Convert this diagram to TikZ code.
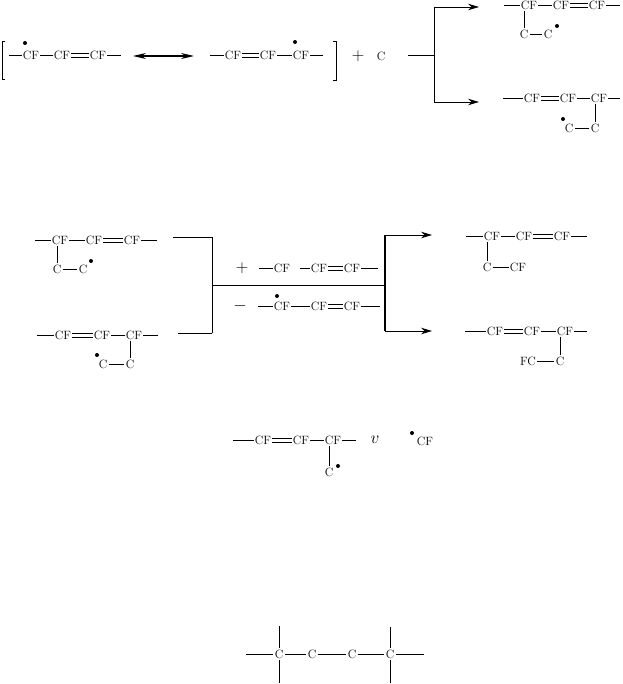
\documentclass[tikz,border=0pt]{standalone}
\usetikzlibrary{arrows.meta}

\newcommand{\dblbond}[2]{%
    \path ([yshift=2pt]#1.east) edge[bond] ([yshift=2pt]#2.west);
    \path ([yshift=-2pt]#1.east) edge[bond] ([yshift=-2pt]#2.west);}

\begin{document}
\begin{tikzpicture}[x=1pt, y=-1pt, >=Stealth, line width=0.8pt,
        atom/.style={inner sep=1pt, font=\fontsize{12}{13}\selectfont},
        sign/.style={inner sep=1pt, font=\fontsize{16}{17}\selectfont},
        radical/.style={circle, fill=black, inner sep=0pt, minimum size=4pt},
        bond/.style={draw},
        pointer/.style={draw, ->, >={Stealth[length=11pt, width=6.5pt]}}]
    \useasboundingbox (0,0) rectangle (622,684);

    % Resonance pair
    \coordinate (p1l) at (9,55);
    \node[atom] (p1a) at (31,55) {CF};
    \node[atom] (p1b) at (62,55) {CF};
    \node[atom] (p1c) at (98,55) {CF};
    \coordinate (p1r) at (121,55);
    \node[radical] (p1d) at (25,43) {};
    \coordinate (p2l) at (210,55);
    \node[atom] (p2a) at (233,55) {CF};
    \node[atom] (p2b) at (268,55) {CF};
    \node[atom] (p2c) at (301,55) {CF};
    \coordinate (p2r) at (323,55);
    \node[radical] (p2d) at (295,42) {};
    \coordinate (resl) at (133,56);
    \coordinate (resr) at (194,56);
    \node[sign] (plus1) at (358,56) {$+$};
    \node[atom] (c1) at (381,56) {C};

    \path (p1l) edge[bond] (p1a);
    \path (p1a) edge[bond] (p1b);
    \dblbond{p1b}{p1c}
    \path (p1c) edge[bond] (p1r);
    \path (p2l) edge[bond] (p2a);
    \dblbond{p2a}{p2b}
    \path (p2b) edge[bond] (p2c);
    \path (p2c) edge[bond] (p2r);
    \draw[<->, >={Stealth[length=13pt, width=6pt]}, line width=1.2pt] (resl) -- (resr);
    \draw (5,41) -- (2,41) -- (2,79) -- (5,79);
    \draw (333,41) -- (336,41) -- (336,80) -- (333,80);

    % Top right branch
    \coordinate (j1) at (408,55);
    \coordinate (j1m) at (434,55);
    \coordinate (j1t) at (434,7);
    \coordinate (j1b) at (434,102);
    \coordinate (j1ta) at (479,7);
    \coordinate (j1ba) at (479,102);
    \path (j1) edge[bond] (j1m);
    \path (j1t) edge[bond] (j1b);
    \path (j1t) edge[pointer] (j1ta);
    \path (j1b) edge[pointer] (j1ba);

    \coordinate (t1l) at (504,5);
    \node[atom] (t1a) at (529,5) {CF};
    \node[atom] (t1b) at (561,5) {CF};
    \node[atom] (t1c) at (597,5) {CF};
    \coordinate (t1r) at (620,5);
    \node[atom] (t1e) at (524,34) {C};
    \node[atom] (t1f) at (548,34) {C};
    \node[radical] (t1d) at (557,26) {};
    \path (t1l) edge[bond] (t1a);
    \path (t1a) edge[bond] (t1b);
    \dblbond{t1b}{t1c}
    \path (t1c) edge[bond] (t1r);
    \path (t1e) edge[bond] (t1f);
    \path (t1e |- t1a.south) edge[bond] (t1e);

    \coordinate (t2l) at (503,98);
    \node[atom] (t2a) at (532,98) {CF};
    \node[atom] (t2b) at (568,98) {CF};
    \node[atom] (t2c) at (599,98) {CF};
    \coordinate (t2r) at (620,98);
    \node[atom] (t2e) at (569,128) {C};
    \node[atom] (t2f) at (595,128) {C};
    \node[radical] (t2d) at (563,119) {};
    \path (t2l) edge[bond] (t2a);
    \dblbond{t2a}{t2b}
    \path (t2b) edge[bond] (t2c);
    \path (t2c) edge[bond] (t2r);
    \path (t2e) edge[bond] (t2f);
    \path (t2f |- t2c.south) edge[bond] (t2f);

    % Middle row, left pair
    \coordinate (m1l) at (35,240);
    \node[atom] (m1a) at (60,240) {CF};
    \node[atom] (m1b) at (94,240) {CF};
    \node[atom] (m1c) at (132,240) {CF};
    \coordinate (m1r) at (157,240);
    \node[atom] (m1e) at (57,269) {C};
    \node[atom] (m1f) at (83,269) {C};
    \node[radical] (m1d) at (91,261) {};
    \path (m1l) edge[bond] (m1a);
    \path (m1a) edge[bond] (m1b);
    \dblbond{m1b}{m1c}
    \path (m1c) edge[bond] (m1r);
    \path (m1e) edge[bond] (m1f);
    \path (m1e |- m1a.south) edge[bond] (m1e);

    \coordinate (m2l) at (37,335);
    \node[atom] (m2a) at (63,335) {CF};
    \node[atom] (m2b) at (102,335) {CF};
    \node[atom] (m2c) at (134,335) {CF};
    \coordinate (m2r) at (158,335);
    \node[atom] (m2e) at (103,364) {C};
    \node[atom] (m2f) at (130,364) {C};
    \node[radical] (m2d) at (97,355) {};
    \path (m2l) edge[bond] (m2a);
    \dblbond{m2a}{m2b}
    \path (m2b) edge[bond] (m2c);
    \path (m2c) edge[bond] (m2r);
    \path (m2e) edge[bond] (m2f);
    \path (m2f |- m2c.south) edge[bond] (m2f);

    % Collecting lines
    \coordinate (j2a) at (173,237);
    \coordinate (j2b) at (212,237);
    \coordinate (j2c) at (178,333);
    \coordinate (j2d) at (212,333);
    \coordinate (j2m) at (212,285);
    \coordinate (j3m) at (385,285);
    \coordinate (j3t) at (385,235);
    \coordinate (j3b) at (385,331);
    \coordinate (j3ta) at (432,235);
    \coordinate (j3ba) at (432,331);
    \path (j2a) edge[bond] (j2b);
    \path (j2c) edge[bond] (j2d);
    \path (j2b) edge[bond] (j2d);
    \path (j2m) edge[bond] (j3m);
    \path[line width=1.2pt] (j3t) edge[bond] (j3b);
    \path (j3t) edge[pointer] (j3ta);
    \path (j3b) edge[pointer] (j3ba);

    % Over and under the line
    \node[sign] (plus2) at (242,268) {$+$};
    \coordinate (u1l) at (259,268);
    \node[atom] (u1a) at (282,268) {CF};
    \node[atom] (u1b) at (319,268) {CF};
    \node[atom] (u1c) at (352,268) {CF};
    \coordinate (u1r) at (378,268);
    \coordinate (u1g) at (300,268);
    \path (u1l) edge[bond] (u1a);
    \path (u1g) edge[bond] (u1b);
    \dblbond{u1b}{u1c}
    \path (u1c) edge[bond] (u1r);

    \node[sign] (minus1) at (240,306) {$-$};
    \coordinate (u2l) at (258,306);
    \node[atom] (u2a) at (282,306) {CF};
    \node[atom] (u2b) at (319,306) {CF};
    \node[atom] (u2c) at (352,306) {CF};
    \coordinate (u2r) at (380,306);
    \node[radical] (u2d) at (277,296) {};
    \path (u2l) edge[bond] (u2a);
    \path (u2a) edge[bond] (u2b);
    \dblbond{u2b}{u2c}
    \path (u2c) edge[bond] (u2r);

    % Middle row, right pair
    \coordinate (r1l) at (466,236);
    \node[atom] (r1a) at (492,236) {CF};
    \node[atom] (r1b) at (524,236) {CF};
    \node[atom] (r1c) at (562,236) {CF};
    \coordinate (r1r) at (587,236);
    \node[atom] (r1e) at (487,267) {C};
    \node[atom] (r1f) at (518,267) {CF};
    \path (r1l) edge[bond] (r1a);
    \path (r1a) edge[bond] (r1b);
    \dblbond{r1b}{r1c}
    \path (r1c) edge[bond] (r1r);
    \path (r1e) edge[bond] (r1f);
    \path (r1e |- r1a.south) edge[bond] (r1e);

    \coordinate (r2l) at (465,331);
    \node[atom] (r2a) at (495,331) {CF};
    \node[atom] (r2b) at (532,331) {CF};
    \node[atom] (r2c) at (565,331) {CF};
    \coordinate (r2r) at (587,331);
    \node[atom] (r2e) at (528,361) {FC};
    \node[atom] (r2f) at (560,361) {C};
    \path (r2l) edge[bond] (r2a);
    \dblbond{r2a}{r2b}
    \path (r2b) edge[bond] (r2c);
    \path (r2c) edge[bond] (r2r);
    \path (r2e) edge[bond] (r2f);
    \path (r2f |- r2c.south) edge[bond] (r2f);

    % Third row
    \coordinate (s1l) at (233,440);
    \node[atom] (s1a) at (263,440) {CF};
    \node[atom] (s1b) at (301,440) {CF};
    \node[atom] (s1c) at (333,440) {CF};
    \coordinate (s1r) at (356,440);
    \node[atom] (s1e) at (329,472) {C};
    \node[radical] (s1d) at (338,466) {};
    \node[sign] (s1v) at (375,440) {$v$};
    \node[radical] (s2d) at (412,433) {};
    \node[atom] (s2a) at (425,441) {CF};
    \path (s1l) edge[bond] (s1a);
    \dblbond{s1a}{s1b}
    \path (s1b) edge[bond] (s1c);
    \path (s1c) edge[bond] (s1r);
    \path (s1e |- s1c.south) edge[bond] (s1e);

    % Bottom chain
    \coordinate (b1l) at (246,654);
    \node[atom] (b1a) at (279,654) {C};
    \node[atom] (b1b) at (312,654) {C};
    \node[atom] (b1c) at (352,654) {C};
    \node[atom] (b1d) at (390,654) {C};
    \coordinate (b1r) at (424,654);
    \coordinate (b1at) at (279,626);
    \coordinate (b1ab) at (279,683);
    \coordinate (b1dt) at (390,627);
    \coordinate (b1db) at (390,683);
    \path (b1l) edge[bond] (b1a);
    \path (b1a) edge[bond] (b1b);
    \path (b1b) edge[bond] (b1c);
    \path (b1c) edge[bond] (b1d);
    \path (b1d) edge[bond] (b1r);
    \path (b1at) edge[bond] (b1a);
    \path (b1ab) edge[bond] (b1a);
    \path (b1dt) edge[bond] (b1d);
    \path (b1db) edge[bond] (b1d);
\end{tikzpicture}
\end{document}
